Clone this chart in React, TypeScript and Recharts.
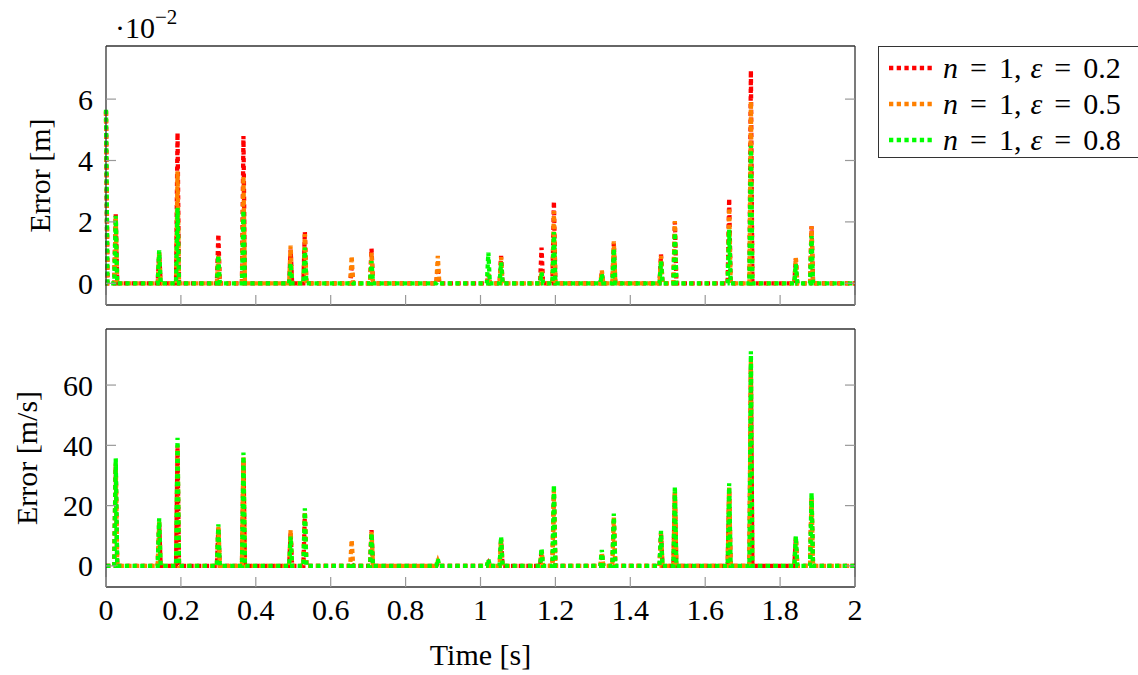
import React from 'react';
import { LineChart, Line, XAxis, YAxis } from 'recharts';

// spike instants [s] (shared by both panels)
const spikeTimes = [0, 0.026, 0.142, 0.191, 0.3, 0.367, 0.493, 0.531, 0.656, 0.709, 0.886, 1.021, 1.055, 1.163, 1.196, 1.324, 1.356, 1.482, 1.519, 1.664, 1.722, 1.842, 1.884];

// position error peaks, in units of 1e-2 m
const posRed = [5.6, 2.25, 1.0, 4.9, 1.6, 4.8, 1.1, 1.68, 0.5, 1.13, 0.5, 0.3, 0.89, 1.16, 2.67, 0.35, 1.3, 0.94, 2.0, 2.76, 6.93, 0.8, 1.86];
const posOrange = [5.6, 2.2, 1.0, 3.65, 0.9, 3.48, 1.23, 1.6, 0.89, 1.0, 0.89, 0.3, 0.85, 0.4, 2.35, 0.42, 1.37, 0.89, 2.03, 2.46, 5.92, 0.83, 1.86];
const posGreen = [5.65, 2.2, 1.07, 2.46, 0.9, 2.38, 0.65, 1.16, 0.05, 0.72, 0.05, 1.0, 0.68, 0.35, 1.67, 0.29, 1.13, 0.72, 1.64, 1.75, 4.48, 0.62, 1.54];

// velocity error peaks, m/s
const velRed = [0, 33, 14, 39, 12.5, 35, 11, 17, 1, 11.9, 1, 1, 8.5, 4.5, 24, 4, 15, 10.5, 24, 25, 66, 9, 22];
const velOrange = [0, 34, 15, 40, 13, 36, 11.9, 18, 8.6, 11.5, 1.5, 1.5, 9, 5, 25, 4.5, 16, 11, 25, 26, 68, 9.5, 23];
const velGreen = [0, 35.7, 15.8, 42.5, 13.8, 37.6, 9.7, 19.1, 1, 10.8, 2.2, 2.2, 9.7, 5.8, 26.8, 5.3, 17.4, 11.6, 26.3, 27.4, 71.2, 9.9, 24.3];

const xTicks = [0, 0.2, 0.4, 0.6, 0.8, 1, 1.2, 1.4, 1.6, 1.8, 2];
const posTicks = [0, 2, 4, 6];
const velTicks = [0, 20, 40, 60];

const epsValues = ['0.2', '0.5', '0.8'];
const colors = ['#ff0000', '#ff8000', '#00ff00'];

const FONT = '"Liberation Serif", "DejaVu Serif", serif';
const DASH = '4.3 3.4';
const TICK = '#999';

function spikes(times: number[], peaks: number[]) {
  const hw = 0.004;
  const pts: { t: number; v: number }[] = [];
  times.forEach((t, i) => {
    if (t === 0) {
      pts.push({ t: 0, v: peaks[i] }, { t: hw, v: 0 });
    } else {
      pts.push({ t: t - hw, v: 0 }, { t, v: peaks[i] }, { t: t + hw, v: 0 });
    }
  });
  pts.push({ t: 2, v: 0 });
  return pts;
}

const posData = [posRed, posOrange, posGreen].map((p) => spikes(spikeTimes, p));
const velData = [velRed, velOrange, velGreen].map((p) => spikes(spikeTimes, p));

const tickLine = (x1: number, y1: number, x2: number, y2: number) => (
  <line x1={x1} y1={y1} x2={x2} y2={y2} stroke={TICK} strokeWidth={1.2} />
);

const BottomTick = (labeled: boolean) => (props: any) => {
  const { x, y, payload } = props;
  return (
    <g>
      {tickLine(x, y, x, y - 10)}
      {labeled && (
        <text x={x} y={y + 33} textAnchor="middle" fontSize={30} fontFamily={FONT} fill="#000">
          {String(payload.value)}
        </text>
      )}
    </g>
  );
};

const TopTick = (props: any) => {
  const { x, y } = props;
  return <g>{tickLine(x, y, x, y + 10)}</g>;
};

const LeftTick = (props: any) => {
  const { x, y, payload } = props;
  return (
    <g>
      {tickLine(x, y, x + 10, y)}
      <text x={x - 13} y={y} dy="0.35em" textAnchor="end" fontSize={30} fontFamily={FONT} fill="#000">
        {String(payload.value)}
      </text>
    </g>
  );
};

const RightTick = (props: any) => {
  const { x, y } = props;
  return <g>{tickLine(x, y, x - 10, y)}</g>;
};

const yTitle = (text: string, dx: number) => (props: any) => {
  const vb = props.viewBox;
  const cx = vb.x + dx;
  const cy = vb.y + vb.height / 2;
  return (
    <text x={cx} y={cy} dy="0.3em" textAnchor="middle" fontSize={30} fontFamily={FONT} fill="#000" transform={`rotate(-90, ${cx}, ${cy})`}>
      {text}
    </text>
  );
};

const timeLabel = (props: any) => {
  const vb = props.viewBox;
  return (
    <text x={vb.x + vb.width / 2} y={vb.y + 78} textAnchor="middle" fontSize={30} fontFamily={FONT} fill="#000">
      Time [s]
    </text>
  );
};

const frame = { stroke: '#333', strokeWidth: 1.3 };

function Panel({ data, domain, ticks, title, titleDx, labeledX, top, height, margin, bottomH }: any) {
  return (
    <div style={{ position: 'absolute', left: 0, top }}>
      <LineChart width={1138} height={height} margin={margin}>
        <XAxis xAxisId="b" type="number" dataKey="t" domain={[0, 2]} ticks={xTicks} interval={0} height={bottomH}
          axisLine={frame} tickLine={false} tickSize={0} tickMargin={0} tick={BottomTick(labeledX)}
          label={labeledX ? timeLabel : undefined} />
        <XAxis xAxisId="t" orientation="top" type="number" dataKey="t" domain={[0, 2]} ticks={xTicks} interval={0} height={5}
          axisLine={frame} tickLine={false} tickSize={0} tickMargin={0} tick={TopTick} />
        <YAxis yAxisId="l" type="number" domain={domain} ticks={ticks} interval={0} width={100} allowDataOverflow
          axisLine={frame} tickLine={false} tickSize={0} tickMargin={0} tick={LeftTick} label={yTitle(title, titleDx)} />
        <YAxis yAxisId="r" orientation="right" type="number" domain={domain} ticks={ticks} interval={0} width={10} allowDataOverflow
          axisLine={frame} tickLine={false} tickSize={0} tickMargin={0} tick={RightTick} />
        {data.map((d: any, i: number) => (
          <Line key={i} xAxisId="b" yAxisId="l" data={d} dataKey="v" type="linear" stroke={colors[i]} strokeWidth={4.3}
            strokeDasharray={DASH} dot={false} activeDot={false} isAnimationActive={false} />
        ))}
      </LineChart>
    </div>
  );
}

const eq = <span style={{ margin: '0 12px' }}>=</span>;

function LegendBox() {
  return (
    <div style={{ position: 'absolute', left: 878, top: 46, width: 280, height: 110, border: '1.3px solid #333', background: '#fff', fontFamily: FONT, fontSize: 30 }}>
      {epsValues.map((eps, i) => (
        <div key={i} style={{ position: 'absolute', left: 10, top: 3 + i * 36, height: 36, display: 'flex', alignItems: 'center', whiteSpace: 'nowrap' }}>
          <svg width={46} height={8} style={{ marginRight: 8 }}>
            <line x1={0} y1={4} x2={46} y2={4} stroke={colors[i]} strokeWidth={4.3} strokeDasharray={DASH} />
          </svg>
          <span>
            <i>n</i>{eq}1,<span style={{ marginLeft: 9 }}><i>ε</i></span>{eq}{eps}
          </span>
        </div>
      ))}
    </div>
  );
}

export default function App() {
  return (
    <div style={{ position: 'absolute', left: 0, top: 0, width: 1138, height: 675, overflow: 'hidden', background: '#fff' }}>
      <Panel data={posData} domain={[-0.707, 7.73]} ticks={posTicks} title="Error [m]" titleDx={35} labeledX={false}
        top={0} height={320} margin={{ top: 41, right: 273, bottom: 5, left: 6 }} bottomH={10} />
      <Panel data={velData} domain={[-7.0, 78.6]} ticks={velTicks} title="Error [m/s]" titleDx={22} labeledX
        top={320} height={355} margin={{ top: 4, right: 273, bottom: 8, left: 6 }} bottomH={80} />
      <svg width={300} height={46} style={{ position: 'absolute', left: 0, top: 0 }}>
        <text x={115} y={38} fontSize={30} fontFamily={FONT} fill="#000">
          ·10<tspan dy={-14} fontSize={21}>−2</tspan>
        </text>
      </svg>
      <LegendBox />
    </div>
  );
}
